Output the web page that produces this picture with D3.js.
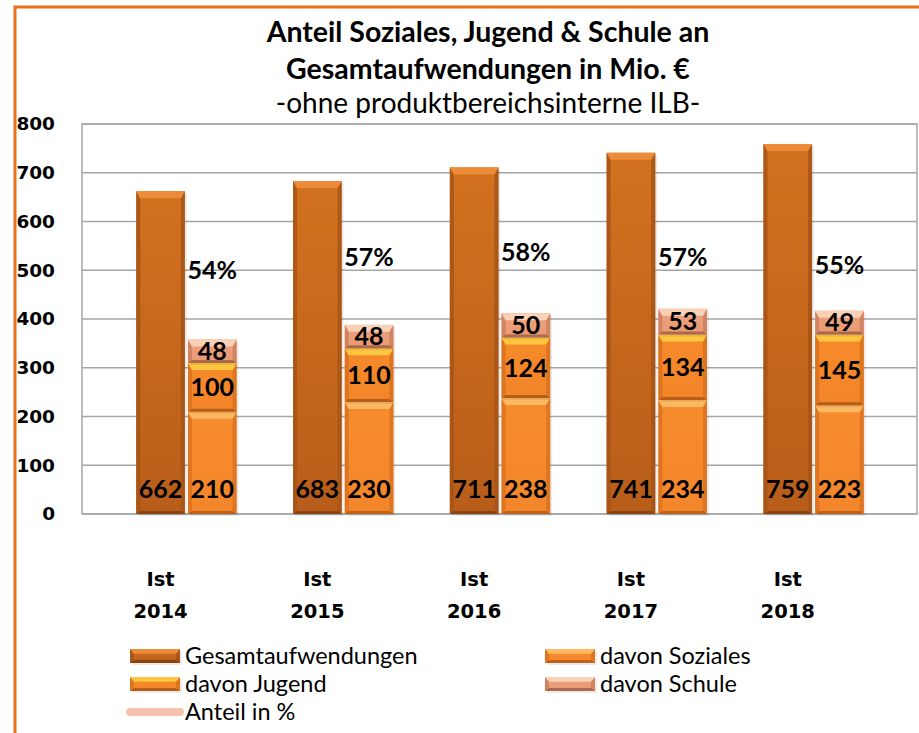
<!DOCTYPE html>
<html><head><meta charset="utf-8">
<script src="https://cdn.jsdelivr.net/npm/d3@7/dist/d3.min.js"></script>
<style>html,body{margin:0;padding:0;background:#fff;}svg{display:block;}</style>
</head><body>
<svg id="c" width="919" height="733"></svg>
<script>
// ---- data ----
const years = ["2014", "2015", "2016", "2017", "2018"];
const catPrefix = "Ist";
const gesamt = [662, 683, 711, 741, 759];
const soziales = [210, 230, 238, 234, 223];
const jugend = [100, 110, 124, 134, 145];
const schule = [48, 48, 50, 53, 49];
const anteil = [54, 57, 58, 57, 55];
const yTicks = [0, 100, 200, 300, 400, 500, 600, 700, 800];
const titleLines = ["Anteil Soziales, Jugend & Schule an", "Gesamtaufwendungen in Mio. €"];
const subtitle = "-ohne produktbereichsinterne ILB-";
const legendNames = ["Gesamtaufwendungen", "davon Soziales", "davon Jugend", "davon Schule", "Anteil in %"];

// ---- styles ----
const pal = {
  gesamt:  {top:"#D2721F", bot:"#B85D1A", hi:"#EC8B38", side:"#A65417", low:"#8A4412"},
  soziales:{top:"#F78C2E", bot:"#F3862A", hi:"#FDB862", side:"#DB7220", low:"#BE621B"},
  jugend:  {top:"#F78A2B", bot:"#F28527", hi:"#FFC640", side:"#D8711E", low:"#B65E19"},
  schule:  {top:"#EEA27E", bot:"#E99A74", hi:"#F9D1B6", side:"#CD7F5E", low:"#AD694C"}
};
const svg = d3.select("#c");
const defs = svg.append("defs");
Object.entries(pal).forEach(([k, p]) => {
  const g = defs.append("linearGradient").attr("id", "g-" + k).attr("x1", 0).attr("y1", 0).attr("x2", 0).attr("y2", 1);
  g.append("stop").attr("offset", "0%").attr("stop-color", p.top);
  g.append("stop").attr("offset", "100%").attr("stop-color", p.bot);
});

// frame
svg.append("path").attr("d", "M15,740 L15,7 L930,7").attr("fill", "none").attr("stroke", "#E8731A").attr("stroke-width", 3);

// ---- scales ----
const plot = {l: 82, r: 917, t: 124, b: 514};
const y = d3.scaleLinear().domain([0, 800]).range([plot.b, plot.t]);
const yPct = d3.scaleLinear().domain([0, 90]).range([plot.b, plot.t]);
const x = d3.scaleBand().domain(years).range([108, 892]);
const sub = d3.scaleBand().domain(["g", "s"]).range([x.bandwidth() * 0.18, x.bandwidth() * 0.82]).paddingInner(0.06);

// title
const tg = svg.append("g").attr("font-family", "Lato, 'Open Sans', sans-serif").attr("fill", "#000").attr("text-anchor", "middle");
tg.selectAll("text.t").data(titleLines).join("text").attr("class", "t")
  .attr("x", 488).attr("y", (d, i) => 42 + i * 37).attr("font-size", 28.5).attr("font-weight", 700).text(d => d);
tg.append("text").attr("x", 488).attr("y", 113).attr("font-size", 28).text(subtitle);

// gridlines + plot border
const grid = svg.append("g");
grid.selectAll("line").data(yTicks).join("line")
  .attr("x1", plot.l).attr("x2", plot.r).attr("y1", d => y(d)).attr("y2", d => y(d))
  .attr("stroke", "#A6A6A6").attr("stroke-width", 1.5);
grid.append("rect").attr("x", plot.l).attr("y", plot.t).attr("width", plot.r - plot.l).attr("height", plot.b - plot.t)
  .attr("fill", "none").attr("stroke", "#A6A6A6").attr("stroke-width", 1.5);

// y axis
const ya = svg.append("g").attr("transform", `translate(${plot.l},0)`)
  .call(d3.axisLeft(y).tickValues(yTicks).tickSize(0).tickPadding(27).tickFormat(d3.format("d")));
ya.select(".domain").remove();
ya.selectAll("text").attr("font-family", "'DejaVu Sans', sans-serif").attr("font-weight", 700).attr("font-size", 18.5).attr("fill", "#000");

// bevel bar
function bevelBar(g, key, bx, by, w, h) {
  const p = pal[key];
  const bt = Math.min(7, h / 3), bs = Math.min(4, w / 6), bb = Math.min(3, h / 4);
  g.append("rect").attr("x", bx + 2).attr("y", by + 2).attr("width", w).attr("height", h).attr("fill", "#000").attr("opacity", 0.08);
  g.append("rect").attr("x", bx).attr("y", by).attr("width", w).attr("height", h).attr("fill", `url(#g-${key})`);
  g.append("polygon").attr("points", [[bx, by], [bx + bs, by + bt], [bx + bs, by + h - bb], [bx, by + h]].join(" ")).attr("fill", p.side).attr("opacity", 0.85);
  g.append("polygon").attr("points", [[bx + w, by], [bx + w - bs, by + bt], [bx + w - bs, by + h - bb], [bx + w, by + h]].join(" ")).attr("fill", p.side).attr("opacity", 0.85);
  g.append("polygon").attr("points", [[bx, by + h], [bx + bs, by + h - bb], [bx + w - bs, by + h - bb], [bx + w, by + h]].join(" ")).attr("fill", p.low);
  g.append("polygon").attr("points", [[bx, by], [bx + w, by], [bx + w - bs, by + bt], [bx + bs, by + bt]].join(" ")).attr("fill", p.hi);
}

const bars = svg.append("g");
const labelFont = "Lato, 'Open Sans', sans-serif";
years.forEach((yr, i) => {
  const gx = x(yr) + sub("g"), sx = x(yr) + sub("s"), w = sub.bandwidth();
  bevelBar(bars, "gesamt", gx, y(gesamt[i]), w, y(0) - y(gesamt[i]));
  const s0 = 0, s1 = soziales[i], s2 = s1 + jugend[i], s3 = s2 + schule[i];
  bevelBar(bars, "soziales", sx, y(s1), w, y(s0) - y(s1));
  bevelBar(bars, "jugend", sx, y(s2), w, y(s1) - y(s2));
  bevelBar(bars, "schule", sx, y(s3), w, y(s2) - y(s3));
});

// data labels
const lab = svg.append("g").attr("font-family", labelFont).attr("font-weight", 700).attr("font-size", 25)
  .attr("text-anchor", "middle").attr("fill", "#000");
years.forEach((yr, i) => {
  const gcx = x(yr) + sub("g") + sub.bandwidth() / 2, scx = x(yr) + sub("s") + sub.bandwidth() / 2;
  const s1 = soziales[i], s2 = s1 + jugend[i], s3 = s2 + schule[i];
  lab.append("text").attr("x", gcx).attr("y", y(0) - 16).text(gesamt[i]);
  lab.append("text").attr("x", scx).attr("y", y(0) - 16).text(soziales[i]);
  lab.append("text").attr("x", scx).attr("y", y((s1 + s2) / 2)).attr("dy", "0.35em").text(jugend[i]);
  lab.append("text").attr("x", scx).attr("y", y((s2 + s3) / 2)).attr("dy", "0.35em").text(schule[i]);
  lab.append("text").attr("x", scx).attr("y", yPct(anteil[i]) - 10).attr("dy", "0.35em").text(anteil[i] + "%");
});

// category labels
const cat = svg.append("g").attr("font-family", "'DejaVu Sans', sans-serif").attr("font-weight", 700).attr("font-size", 19.5)
  .attr("text-anchor", "middle").attr("fill", "#000");
years.forEach(yr => {
  const cx = x(yr) + sub("g") + sub.bandwidth() / 2;
  cat.append("text").attr("x", cx).attr("y", 586).text(catPrefix);
  cat.append("text").attr("x", cx).attr("y", 618).text(yr);
});

// legend
const leg = svg.append("g").attr("font-family", labelFont).attr("font-size", 23.5).attr("fill", "#000");
const legPos = [[130, 656, "gesamt"], [545, 656, "soziales"], [130, 684, "jugend"], [545, 684, "schule"], [130, 712, null]];
legendNames.forEach((nm, i) => {
  const [lx, ly, key] = legPos[i];
  if (key) bevelBar(leg, key, lx, ly - 7, 50, 14);
  else leg.append("line").attr("x1", lx).attr("x2", lx + 50).attr("y1", ly).attr("y2", ly)
    .attr("stroke", "#F5C4AC").attr("stroke-width", 8).attr("stroke-linecap", "round");
  leg.append("text").attr("x", lx + 55).attr("y", ly).attr("dy", "0.35em").text(nm);
});
</script>
</body></html>
